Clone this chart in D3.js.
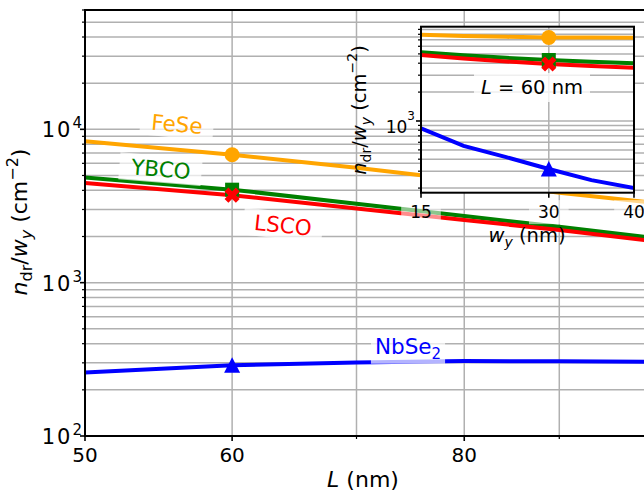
<!DOCTYPE html>
<html>
<head>
<meta charset="utf-8">
<script src="https://cdn.jsdelivr.net/npm/d3@7"></script>
<style>
  body { margin: 0; background: #fff; }
  svg { display: block; }
  text { font-family: "DejaVu Sans", sans-serif; }
</style>
</head>
<body>
<script>
// main panel: n_dr / w_y against L
const lengths = [50, 60, 70, 80, 90, 100];
const fese = [8355, 6826, 5610, 4651, 3857, 3365];
const ybco = [4850, 4040, 3276, 2725, 2314, 1992];
const lsco = [4474, 3721, 3050, 2563, 2203, 1896];
const nbse2 = [259.7, 289, 302, 308, 307, 305];

// inset: n_dr / w_y against w_y at L = 60 nm
const widths = [15, 20, 25, 30, 35, 40];
const feseW = [7925, 7700, 7530, 7420, 7400, 7380];
const ybcoW = [5200, 4850, 4550, 4315, 4130, 3990];
const lscoW = [4870, 4480, 4170, 3925, 3740, 3590];
const nbse2W = [839, 550, 420, 316, 242, 200];

const materials = ["FeSe", "YBCO", "LSCO", "NbSe2"];
const colors = ["orange", "green", "red", "blue"];
const markers = ["circle", "square", "x", "triangle"];
const markL = 60, markW = 30;

const xTicks = [50, 60, 80];
const xMinor = [70, 90];
const yTicks = [100, 1000, 10000];
const insetXTicks = [15, 30, 40];
const insetYTicks = [1000];

const mainVals = [fese, ybco, lsco, nbse2];
const insetVals = [feseW, ybcoW, lscoW, nbse2W];

const W = 644, H = 494;
const grid = "#b0b0b0";

const svg = d3.select("body").append("svg").attr("width", W).attr("height", H);

const plot = {left: 85, right: 644.3, top: 10, bottom: 436};
const x = d3.scaleLog().domain([50, 100]).range([plot.left, plot.right]);
const y = d3.scaleLog().domain([100, 60000]).range([plot.bottom, plot.top]);

const ins = {left: 421, right: 634, top: 26.7, bottom: 192.7};
const xi = d3.scaleLinear().domain([15, 40]).range([ins.left, ins.right]);
const yi = d3.scaleLog().domain([179, 9600]).range([ins.bottom, ins.top]);

const defs = svg.append("defs");
defs.append("clipPath").attr("id", "clipMain").append("rect")
  .attr("x", plot.left).attr("y", plot.top)
  .attr("width", plot.right - plot.left).attr("height", plot.bottom - plot.top);
defs.append("clipPath").attr("id", "clipInset").append("rect")
  .attr("x", ins.left).attr("y", ins.top)
  .attr("width", ins.right - ins.left).attr("height", ins.bottom - ins.top);

function markerPath(type) {
  if (type === "circle") return d3.symbol(d3.symbolCircle, Math.PI * 7.5 * 7.5)();
  if (type === "square") return "M-7,-7H7V7H-7Z";
  if (type === "triangle") return "M0,-8L8,7.5L-8,7.5Z";
  const h = 8, t = 2.7;
  const pts = [[-t,-h],[t,-h],[t,-t],[h,-t],[h,t],[t,t],[t,h],[-t,h],[-t,t],[-h,t],[-h,-t],[-t,-t]];
  const r = Math.SQRT1_2;
  return "M" + pts.map(([a, b]) => [(a - b) * r, (a + b) * r].join(",")).join("L") + "Z";
}

// text with a translucent white box behind it
function boxedText(g, cx, cy, angle, size, color, build, padX, padY, alpha) {
  const grp = g.append("g").attr("transform", `translate(${cx},${cy}) rotate(${angle})`);
  const rect = grp.append("rect");
  const t = grp.append("text").attr("text-anchor", "middle").attr("font-size", size)
    .attr("fill", color).attr("y", size * 0.36);
  build(t);
  const bb = t.node().getBBox();
  rect.attr("x", bb.x - padX).attr("y", bb.y - padY)
    .attr("width", bb.width + 2 * padX).attr("height", bb.height + 2 * padY)
    .attr("fill", "#fff").attr("fill-opacity", alpha);
  return grp;
}

function slopeAngle(xs, ys, sx, sy, i) {
  const dx = sx(xs[i + 1]) - sx(xs[i]);
  const dy = sy(ys[i + 1]) - sy(ys[i]);
  return Math.atan2(dy, dx) * 180 / Math.PI;
}

// ---------- main axes ----------
const gm = svg.append("g").attr("clip-path", "url(#clipMain)");

gm.selectAll(".hg").data(y.ticks()).join("line")
  .attr("x1", plot.left).attr("x2", plot.right)
  .attr("y1", d => y(d)).attr("y2", d => y(d))
  .attr("stroke", grid).attr("stroke-width", 1.5);
gm.selectAll(".vg").data(xTicks.concat(xMinor)).join("line")
  .attr("x1", d => x(d)).attr("x2", d => x(d))
  .attr("y1", plot.top).attr("y2", plot.bottom)
  .attr("stroke", grid).attr("stroke-width", 1.5);

const lineMain = d3.line().x((d, i) => x(lengths[i])).y(d => y(d));
mainVals.forEach((vals, k) => {
  gm.append("path").attr("d", lineMain(vals)).attr("fill", "none")
    .attr("stroke", colors[k]).attr("stroke-width", 4);
});
const mi = lengths.indexOf(markL);
mainVals.forEach((vals, k) => {
  gm.append("path").attr("d", markerPath(markers[k]))
    .attr("transform", `translate(${x(markL)},${y(vals[mi])})`)
    .attr("fill", colors[k]);
});

const LF = 21.5;
const subName = t => {
  t.append("tspan").text("NbSe");
  t.append("tspan").attr("font-size", 15).attr("dy", 5).text("2");
};
boxedText(gm, 177, 124, slopeAngle(lengths, fese, x, y, 0), LF, colors[0], t => t.text("FeSe"), 11, 1, 0.7);
boxedText(gm, 161, 169, slopeAngle(lengths, ybco, x, y, 0), LF, colors[1], t => t.text("YBCO"), 11, 1, 0.7);
boxedText(gm, 283, 225, slopeAngle(lengths, lsco, x, y, 1), LF, colors[2], t => t.text("LSCO"), 11, 1, 0.7);
boxedText(gm, 408, 346, 0, LF, colors[3], subName, 4, 1, 0.7);

// spines
svg.append("path")
  .attr("d", `M${plot.right},${plot.top}H${plot.left}V${plot.bottom}H${plot.right}`)
  .attr("fill", "none").attr("stroke", "#000").attr("stroke-width", 2);

// y ticks
svg.selectAll(".ym").data(y.ticks()).join("line")
  .attr("x1", plot.left).attr("x2", d => plot.left - (yTicks.includes(d) ? 5 : 3))
  .attr("y1", d => y(d)).attr("y2", d => y(d))
  .attr("stroke", "#000").attr("stroke-width", d => yTicks.includes(d) ? 1.6 : 1.2);
yTicks.forEach(v => {
  const t = svg.append("text").attr("x", 82).attr("y", y(v) + 8)
    .attr("text-anchor", "end").attr("font-size", 21).attr("fill", "#000");
  t.append("tspan").attr("letter-spacing", 2).text("10");
  t.append("tspan").attr("dy", -9).attr("font-size", 15).text(Math.round(Math.log10(v)));
});

// x ticks
svg.selectAll(".xm").data(xTicks.concat(xMinor)).join("line")
  .attr("x1", d => x(d)).attr("x2", d => x(d))
  .attr("y1", plot.bottom).attr("y2", d => plot.bottom + (xTicks.includes(d) ? 5 : 3))
  .attr("stroke", "#000").attr("stroke-width", d => xTicks.includes(d) ? 1.6 : 1.2);
svg.selectAll(".xl").data(xTicks).join("text")
  .attr("x", d => x(d)).attr("y", 462).attr("text-anchor", "middle")
  .attr("font-size", 20).text(d => d);

// axis labels
const xl = svg.append("text").attr("x", 363).attr("y", 487)
  .attr("text-anchor", "middle").attr("font-size", 22);
xl.append("tspan").attr("font-style", "italic").text("L");
xl.append("tspan").text(" (nm)");

function yLabel(g, size, sub) {
  const t = g.append("text").attr("text-anchor", "middle").attr("font-size", size);
  t.append("tspan").attr("font-style", "italic").text("n");
  t.append("tspan").attr("font-size", sub).attr("dy", 5).text("dr");
  t.append("tspan").attr("dy", -5).text("/");
  t.append("tspan").attr("font-style", "italic").text("w");
  t.append("tspan").attr("font-style", "italic").attr("font-size", sub).attr("dy", 5).text("y");
  t.append("tspan").attr("dy", -5).text(" (cm");
  t.append("tspan").attr("font-size", sub).attr("dy", -9).text("\u22122");
  t.append("tspan").attr("dy", 9).text(")");
}
yLabel(svg.append("g").attr("transform", "translate(27,222) rotate(-90)"), 22, 16);

// ---------- inset ----------
svg.append("rect").attr("x", ins.left).attr("y", ins.top)
  .attr("width", ins.right - ins.left).attr("height", ins.bottom - ins.top)
  .attr("fill", "#fff");
const gi = svg.append("g").attr("clip-path", "url(#clipInset)");
gi.selectAll(".ihg").data(yi.ticks()).join("line")
  .attr("x1", ins.left).attr("x2", ins.right)
  .attr("y1", d => yi(d)).attr("y2", d => yi(d))
  .attr("stroke", grid).attr("stroke-width", 1.5);
gi.selectAll(".ivg").data(insetXTicks).join("line")
  .attr("x1", d => xi(d)).attr("x2", d => xi(d))
  .attr("y1", ins.top).attr("y2", ins.bottom)
  .attr("stroke", grid).attr("stroke-width", 1.5);

const lineInset = d3.line().x((d, i) => xi(widths[i])).y(d => yi(d));
insetVals.forEach((vals, k) => {
  gi.append("path").attr("d", lineInset(vals)).attr("fill", "none")
    .attr("stroke", colors[k]).attr("stroke-width", 4);
});
const wi = widths.indexOf(markW);
insetVals.forEach((vals, k) => {
  gi.append("path").attr("d", markerPath(markers[k]))
    .attr("transform", `translate(${xi(markW)},${yi(vals[wi])})`)
    .attr("fill", colors[k]);
});
boxedText(gi, 532, 87, 0, 19.5, "#000", t => {
  t.append("tspan").attr("font-style", "italic").text("L");
  t.append("tspan").text(" = " + markL + " nm");
}, 7, 3, 0.8);

svg.append("rect").attr("x", ins.left).attr("y", ins.top)
  .attr("width", ins.right - ins.left).attr("height", ins.bottom - ins.top)
  .attr("fill", "none").attr("stroke", "#000").attr("stroke-width", 2);

svg.selectAll(".iym").data(yi.ticks()).join("line")
  .attr("x1", ins.left).attr("x2", d => ins.left - (insetYTicks.includes(d) ? 5 : 3))
  .attr("y1", d => yi(d)).attr("y2", d => yi(d))
  .attr("stroke", "#000").attr("stroke-width", d => insetYTicks.includes(d) ? 1.6 : 1.2);
insetYTicks.forEach(v => {
  const t = svg.append("text").attr("x", 415).attr("y", yi(v) + 12)
    .attr("text-anchor", "end").attr("font-size", 17);
  t.append("tspan").text("10");
  t.append("tspan").attr("dy", -13).attr("font-size", 12).text(Math.round(Math.log10(v)));
});

svg.selectAll(".ixm").data(insetXTicks).join("line")
  .attr("x1", d => xi(d)).attr("x2", d => xi(d))
  .attr("y1", ins.bottom).attr("y2", ins.bottom + 5)
  .attr("stroke", "#000").attr("stroke-width", 1.6);
insetXTicks.forEach(v => {
  boxedText(svg, xi(v), 212, 0, 17, "#000", t => t.text(v), 9, 2, 0.55);
});

const il = svg.append("text").attr("x", 527).attr("y", 242)
  .attr("text-anchor", "middle").attr("font-size", 19.5);
il.append("tspan").attr("font-style", "italic").text("w");
il.append("tspan").attr("font-style", "italic").attr("font-size", 14).attr("dy", 5).text("y");
il.append("tspan").attr("dy", -5).text(" (nm)");

yLabel(svg.append("g").attr("transform", "translate(366,110) rotate(-90)"), 19.5, 14);
</script>
</body>
</html>
